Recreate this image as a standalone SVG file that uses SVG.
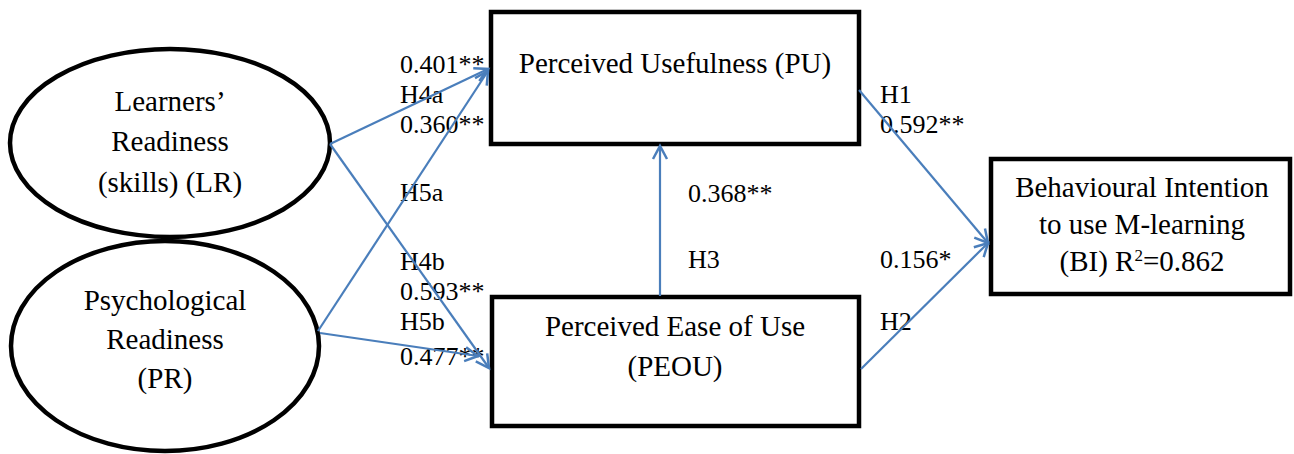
<svg xmlns="http://www.w3.org/2000/svg" width="1294" height="454" viewBox="0 0 1294 454">
<style>
.node{fill:#fff;stroke:#000;stroke-width:4.5}
.t{font-family:"Liberation Serif","Times New Roman",serif;font-size:29px;fill:#000;text-anchor:middle}
.l{font-family:"Liberation Serif","Times New Roman",serif;font-size:26px;fill:#000}
.c{fill:none;stroke:#4A7EBB;stroke-width:2.2}
</style>
<defs>
<marker id="arr" markerUnits="userSpaceOnUse" markerWidth="20" markerHeight="20" refX="14" refY="8" orient="auto" viewBox="0 0 20 16">
<path d="M1,1 L14,8 L1,15" fill="none" stroke="#4A7EBB" stroke-width="2.5"/>
</marker>
</defs>
<rect width="1294" height="454" fill="#fff"/>
<g id="labels">
<text class="l" x="400" y="73">0.401**</text>
<text class="l" x="400" y="103">H4a</text>
<text class="l" x="400" y="133">0.360**</text>
<text class="l" x="400" y="201">H5a</text>
<text class="l" x="400" y="270">H4b</text>
<text class="l" x="400" y="300">0.593**</text>
<text class="l" x="400" y="330">H5b</text>
<text class="l" x="400" y="365">0.477**</text>
<text class="l" x="688" y="202">0.368**</text>
<text class="l" x="688" y="268">H3</text>
<text class="l" x="880" y="103">H1</text>
<text class="l" x="880" y="133">0.592**</text>
<text class="l" x="880" y="268">0.156*</text>
<text class="l" x="880" y="330">H2</text>
</g>
<g id="LR">
<ellipse class="node" cx="170" cy="143" rx="160" ry="94"/>
<text class="t" x="170" y="111">Learners’</text>
<text class="t" x="170" y="151">Readiness</text>
<text class="t" x="170" y="192">(skills) (LR)</text>
</g>
<g id="PR">
<ellipse class="node" cx="165" cy="346" rx="154" ry="105"/>
<text class="t" x="165" y="310">Psychological</text>
<text class="t" x="165" y="349">Readiness</text>
<text class="t" x="165" y="388">(PR)</text>
</g>
<g id="PU">
<rect class="node" x="491" y="12" width="368" height="132"/>
<text class="t" x="675" y="73">Perceived Usefulness (PU)</text>
</g>
<g id="PEOU">
<rect class="node" x="492" y="297" width="367" height="129"/>
<text class="t" x="675" y="336">Perceived Ease of Use</text>
<text class="t" x="675" y="376">(PEOU)</text>
</g>
<g id="BI">
<rect class="node" x="991" y="159" width="299" height="135"/>
<text class="t" x="1142" y="197">Behavioural Intention</text>
<text class="t" x="1142" y="234">to use M-learning</text>
<text class="t" x="1142" y="271">(BI) R<tspan dy="-10" font-size="17">2</tspan><tspan dy="10">=0.862</tspan></text>
</g>
<g id="connectors">
<line class="c" x1="330" y1="144" x2="488" y2="69" marker-end="url(#arr)"/>
<line class="c" x1="318" y1="331" x2="488" y2="71" marker-end="url(#arr)"/>
<line class="c" x1="330" y1="144" x2="489" y2="368" marker-end="url(#arr)"/>
<line class="c" x1="320" y1="333" x2="478" y2="356" marker-end="url(#arr)"/>
<line class="c" x1="660" y1="296" x2="660" y2="146" marker-end="url(#arr)"/>
<line class="c" x1="859" y1="90" x2="988" y2="243" marker-end="url(#arr)"/>
<line class="c" x1="861" y1="369" x2="988" y2="243" marker-end="url(#arr)"/>
</g>
</svg>
